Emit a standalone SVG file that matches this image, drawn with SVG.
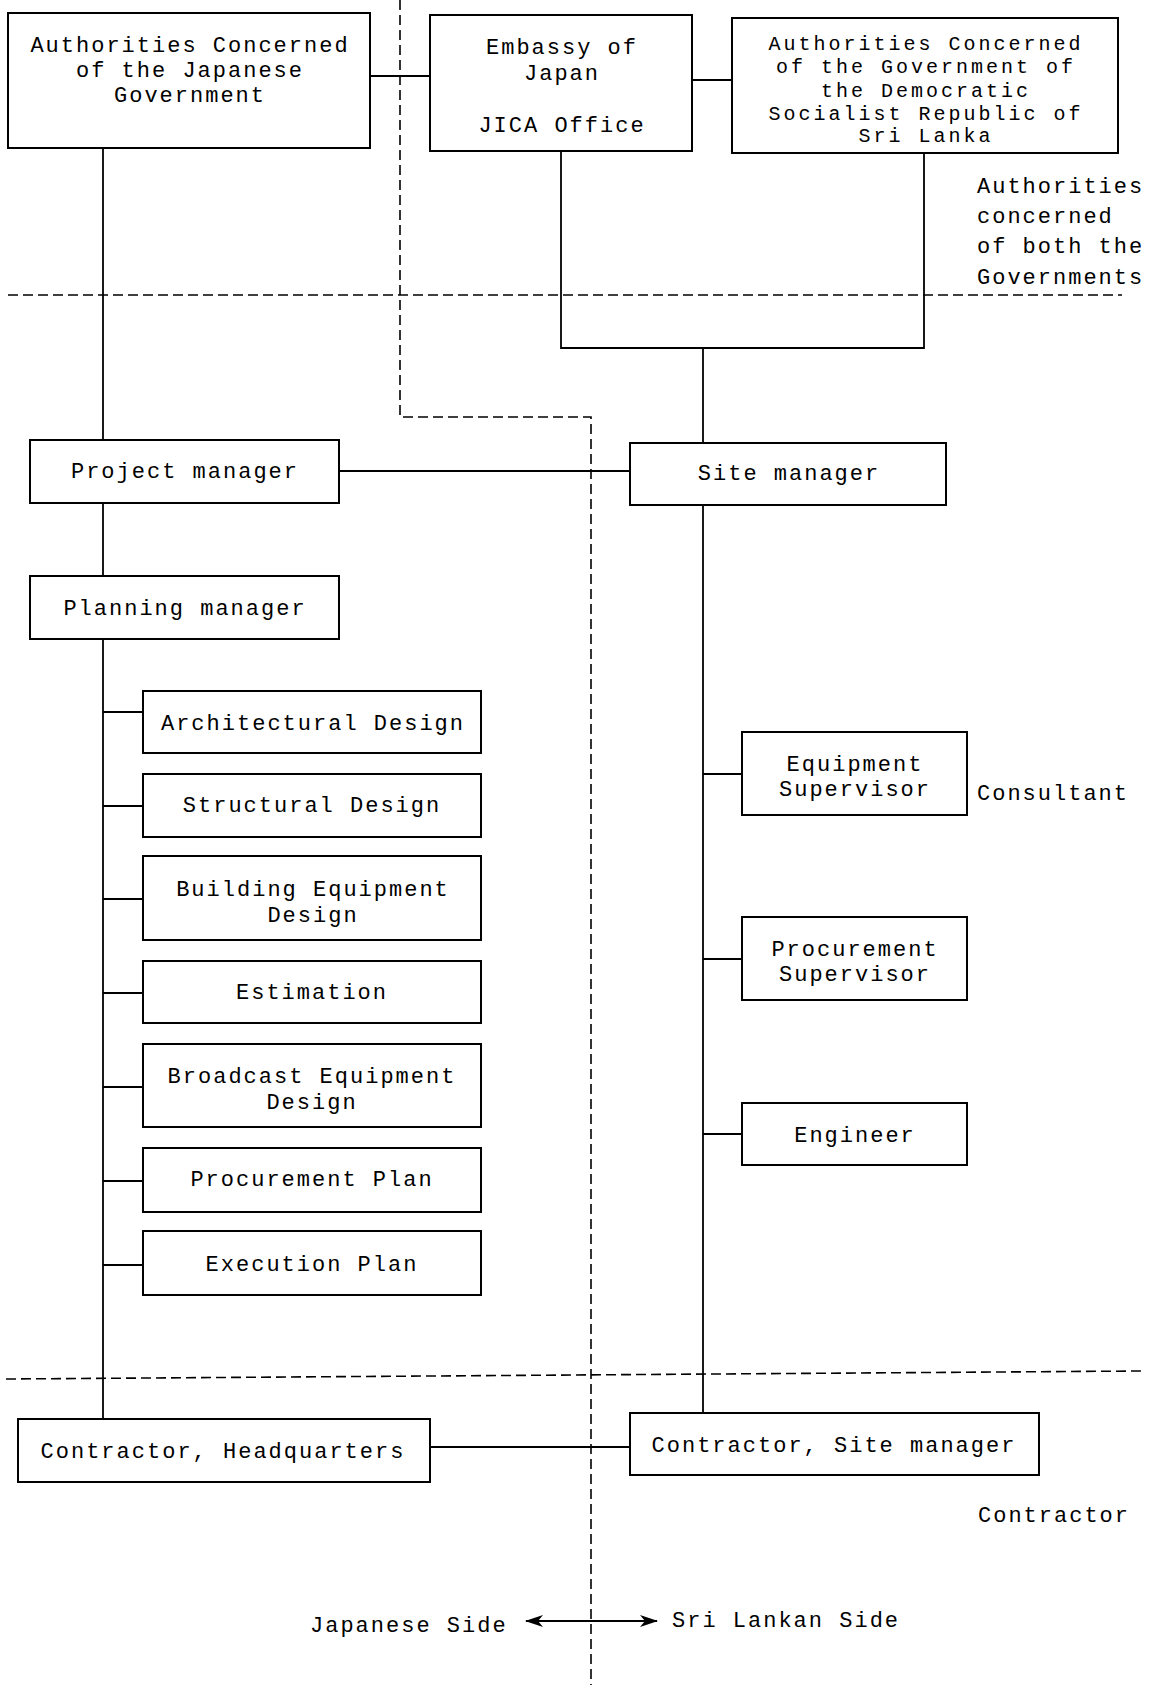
<svg xmlns="http://www.w3.org/2000/svg" width="1152" height="1685" viewBox="0 0 1152 1685">
<defs>
<style>
.bg{fill:#fff}
.box{fill:#fff;stroke:#000;stroke-width:2}
.ln{fill:none;stroke:#000;stroke-width:1.8}
.dv{fill:none;stroke:#000;stroke-width:1.6;stroke-dasharray:10 5}
.t{font-family:"Liberation Mono","Courier New",monospace;font-size:22px;letter-spacing:2px;fill:#000;text-anchor:middle}
.s{font-size:20px;letter-spacing:3px}
.l{text-anchor:start}
</style>
<marker id="ah" viewBox="0 0 18 12" refX="17" refY="6" markerWidth="18" markerHeight="12" markerUnits="userSpaceOnUse" orient="auto-start-reverse">
<path d="M0,0 L18,6 L0,12 L5,6 Z" fill="#000"/>
</marker>
</defs>
<rect class="bg" x="0" y="0" width="1152" height="1685"/>

<g id="dividers">
<path class="dv" d="M8 295 H1122"/>
<path class="dv" d="M400 0 V417 H591 V1685"/>
<path class="dv" d="M6 1379 L1141 1371"/>
</g>

<g id="connectors">
<path class="ln" d="M370 76 H430"/>
<path class="ln" d="M692 80 H732"/>
<path class="ln" d="M561 151 V348 H924 V153"/>
<path class="ln" d="M703 348 V443"/>
<path class="ln" d="M103 148 V440"/>
<path class="ln" d="M339 471 H630"/>
<path class="ln" d="M103 503 V576"/>
<path class="ln" d="M103 639 V1420"/>
<path class="ln" d="M103 712 H143 M103 806 H143 M103 899 H143 M103 993 H143 M103 1087 H143 M103 1181 H143 M103 1265 H143"/>
<path class="ln" d="M703 505 V1413"/>
<path class="ln" d="M703 774 H742 M703 959 H742 M703 1134 H742"/>
<path class="ln" d="M430 1447 H630"/>
<path class="ln" d="M526 1621 H657" marker-start="url(#ah)" marker-end="url(#ah)"/>
</g>

<g id="n-jp-gov">
<rect class="box" x="8" y="13" width="362" height="135"/>
<text class="t" x="190" y="52">Authorities Concerned</text>
<text class="t" x="190" y="77">of the Japanese</text>
<text class="t" x="190" y="102">Government</text>
</g>
<g id="n-embassy">
<rect class="box" x="430" y="15" width="262" height="136"/>
<text class="t" x="562" y="54">Embassy of</text>
<text class="t" x="562" y="80">Japan</text>
<text class="t" x="562" y="132">JICA Office</text>
</g>
<g id="n-sl-gov">
<rect class="box" x="732" y="18" width="386" height="135"/>
<text class="t s" x="926" y="50">Authorities Concerned</text>
<text class="t s" x="926" y="73">of the Government of</text>
<text class="t s" x="926" y="96.5">the Democratic</text>
<text class="t s" x="926" y="120">Socialist Republic of</text>
<text class="t s" x="926" y="142">Sri Lanka</text>
</g>
<g id="lbl-authorities">
<text class="t l" x="977" y="193">Authorities</text>
<text class="t l" x="977" y="223">concerned</text>
<text class="t l" x="977" y="253">of both the</text>
<text class="t l" x="977" y="284">Governments</text>
</g>
<g id="n-project-manager">
<rect class="box" x="30" y="440" width="309" height="63"/>
<text class="t" x="185" y="478">Project manager</text>
</g>
<g id="n-site-manager">
<rect class="box" x="630" y="443" width="316" height="62"/>
<text class="t" x="789" y="480">Site manager</text>
</g>
<g id="n-planning-manager">
<rect class="box" x="30" y="576" width="309" height="63"/>
<text class="t" x="185" y="615">Planning manager</text>
</g>
<g id="n-arch">
<rect class="box" x="143" y="691" width="338" height="62"/>
<text class="t" x="313" y="730">Architectural Design</text>
</g>
<g id="n-struct">
<rect class="box" x="143" y="774" width="338" height="63"/>
<text class="t" x="312" y="812">Structural Design</text>
</g>
<g id="n-building">
<rect class="box" x="143" y="856" width="338" height="84"/>
<text class="t" x="313" y="896">Building Equipment</text>
<text class="t" x="313" y="922">Design</text>
</g>
<g id="n-estimation">
<rect class="box" x="143" y="961" width="338" height="62"/>
<text class="t" x="312" y="999">Estimation</text>
</g>
<g id="n-broadcast">
<rect class="box" x="143" y="1044" width="338" height="83"/>
<text class="t" x="312" y="1083">Broadcast Equipment</text>
<text class="t" x="312" y="1109">Design</text>
</g>
<g id="n-procurement-plan">
<rect class="box" x="143" y="1148" width="338" height="64"/>
<text class="t" x="312" y="1186">Procurement Plan</text>
</g>
<g id="n-execution-plan">
<rect class="box" x="143" y="1231" width="338" height="64"/>
<text class="t" x="312" y="1271">Execution Plan</text>
</g>
<g id="n-equipment-supervisor">
<rect class="box" x="742" y="732" width="225" height="83"/>
<text class="t" x="855" y="771">Equipment</text>
<text class="t" x="855" y="796">Supervisor</text>
</g>
<g id="lbl-consultant">
<text class="t l" x="977" y="800">Consultant</text>
</g>
<g id="n-procurement-supervisor">
<rect class="box" x="742" y="917" width="225" height="83"/>
<text class="t" x="855" y="956">Procurement</text>
<text class="t" x="855" y="981">Supervisor</text>
</g>
<g id="n-engineer">
<rect class="box" x="742" y="1103" width="225" height="62"/>
<text class="t" x="855" y="1142">Engineer</text>
</g>
<g id="n-contractor-hq">
<rect class="box" x="18" y="1419" width="412" height="63"/>
<text class="t" x="223" y="1458">Contractor, Headquarters</text>
</g>
<g id="n-contractor-site">
<rect class="box" x="630" y="1413" width="409" height="62"/>
<text class="t" x="834" y="1452">Contractor, Site manager</text>
</g>
<g id="lbl-contractor">
<text class="t l" x="978" y="1522">Contractor</text>
</g>
<g id="lbl-sides">
<text class="t l" x="310" y="1632">Japanese Side</text>
<text class="t l" x="672" y="1627">Sri Lankan Side</text>
</g>
</svg>
